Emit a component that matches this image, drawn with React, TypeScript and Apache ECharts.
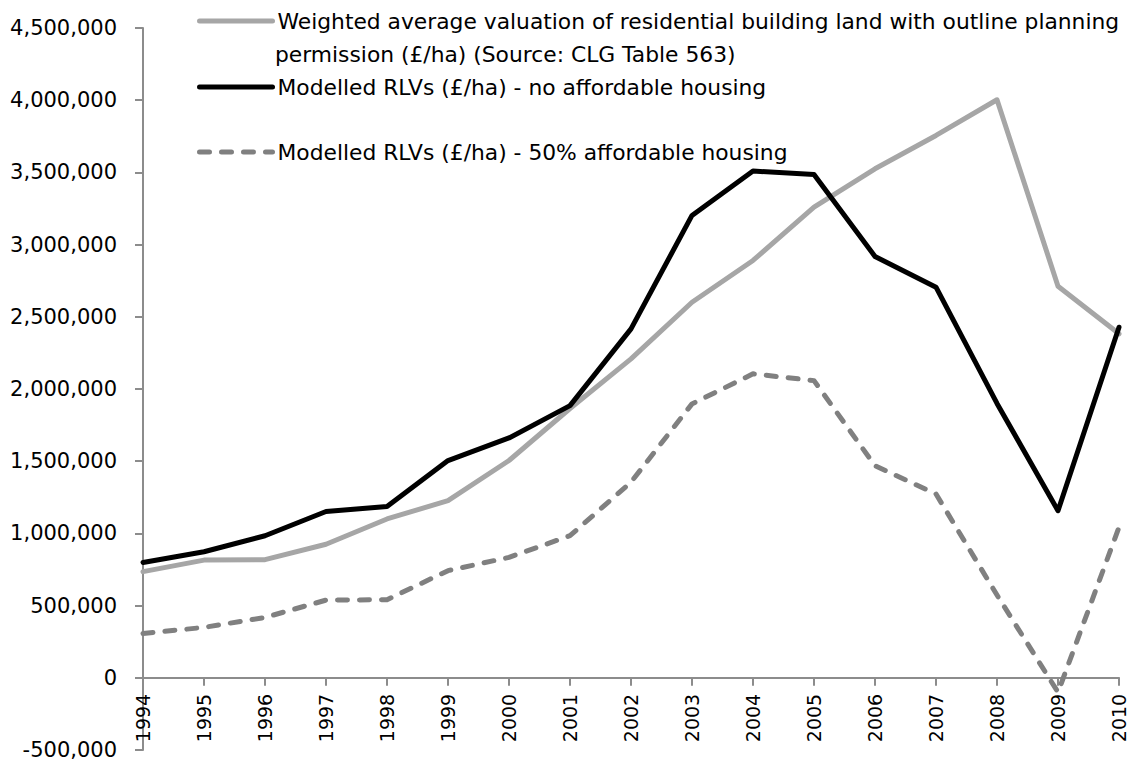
import React, { useEffect, useRef } from "react";
import * as echarts from "echarts";

const years = ["1994","1995","1996","1997","1998","1999","2000","2001","2002","2003","2004","2005","2006","2007","2008","2009","2010"];
const weightedAvg = [735000, 815000, 818000, 925000, 1100000, 1227000, 1505000, 1865000, 2209000, 2601000, 2890000, 3259000, 3525000, 3756000, 4003000, 2712000, 2382000];
const rlvNoAffordable = [799000, 873000, 984000, 1152000, 1187000, 1504000, 1661000, 1885000, 2416000, 3202000, 3509000, 3486000, 2918000, 2705000, 1900000, 1157000, 2428000];
const rlv50Affordable = [307000, 349000, 418000, 538000, 541000, 742000, 834000, 984000, 1355000, 1897000, 2105000, 2058000, 1469000, 1273000, 573000, -100000, 1042000];

const nameWeighted = "Weighted average valuation of residential building land with outline planning permission (£/ha) (Source: CLG Table 563)";
const nameWeightedLine1 = "Weighted average valuation of residential building land with outline planning";
const nameWeightedLine2 = "permission (£/ha) (Source: CLG Table 563)";
const nameNo = "Modelled RLVs (£/ha) - no affordable housing";
const name50 = "Modelled RLVs (£/ha) - 50% affordable housing";

const FONT = "DejaVu Sans";
const GREY = "#a6a6a6";
const BLACK = "#000000";
const DASH = "#808080";
const DASH_PATTERN = [10, 12];

const GRID_TOP = 28;
const GRID_BOTTOM = 10;
const CHART_H = 760;
const Y_MIN = -500000;
const Y_MAX = 4500000;

export default function App() {
  const ref = useRef<HTMLDivElement>(null);
  useEffect(() => {
    if (!ref.current) return;
    const chart = echarts.init(ref.current, undefined, { renderer: "svg" });
    const plotH = CHART_H - GRID_TOP - GRID_BOTTOM;
    // distance from the bottom of the grid to the zero line
    const zeroOffset = (plotH * (0 - Y_MIN)) / (Y_MAX - Y_MIN);
    const legendCommon = {
      orient: "vertical",
      left: 197,
      padding: 0,
      itemWidth: 73,
      itemHeight: 14,
      itemGap: 5,
      selectedMode: false,
      itemStyle: { opacity: 0 },
      textStyle: { fontFamily: FONT, fontSize: 21.8, color: "#000", lineHeight: 26 },
    };
    chart.setOption({
      animation: false,
      grid: { left: 143, right: 19, top: GRID_TOP, bottom: GRID_BOTTOM, containLabel: false, outerBoundsMode: "none" },
      legend: [
        {
          ...legendCommon,
          top: 8,
          data: [nameWeighted],
          formatter: () => nameWeightedLine1,
          lineStyle: { color: GREY, width: 5, cap: "round", type: "solid" },
        },
        {
          ...legendCommon,
          top: 74,
          data: [nameNo],
          lineStyle: { color: BLACK, width: 5, cap: "round", type: "solid" },
        },
        {
          ...legendCommon,
          top: 139,
          data: [name50],
          lineStyle: { color: DASH, width: 5, cap: "round", type: DASH_PATTERN },
        },
      ],
      graphic: [
        {
          type: "text",
          left: 275,
          top: 54 - 13,
          style: {
            text: nameWeightedLine2,
            fontFamily: FONT,
            fontSize: 21.8,
            lineHeight: 26,
            fill: "#000",
          },
        },
      ],
      xAxis: {
        type: "category",
        data: years,
        boundaryGap: false,
        position: "bottom",
        offset: -zeroOffset,
        axisLine: { onZero: false, lineStyle: { color: "#8c8c8c", width: 2 } },
        axisTick: { show: true, length: 8, inside: false, lineStyle: { color: "#8c8c8c", width: 2 } },
        axisLabel: { rotate: 90, interval: 0, margin: 16, fontFamily: FONT, fontSize: 19, color: "#000" },
        splitLine: { show: false },
      },
      yAxis: {
        type: "value",
        min: Y_MIN,
        max: Y_MAX,
        interval: 500000,
        axisLine: { show: true, lineStyle: { color: "#8c8c8c", width: 2 } },
        axisTick: { show: true, length: 8, lineStyle: { color: "#8c8c8c", width: 2 } },
        axisLabel: {
          margin: 26,
          fontFamily: FONT,
          fontSize: 21,
          lineHeight: 16,
          padding: [0, 0, 2, 0],
          color: "#000",
          formatter: (v: number) => v.toLocaleString("en-US"),
        },
        splitLine: { show: false },
      },
      series: [
        {
          name: nameWeighted,
          type: "line",
          data: weightedAvg,
          symbol: "none",
          lineStyle: { color: GREY, width: 5, cap: "round", join: "round" },
          itemStyle: { color: GREY },
        },
        {
          name: nameNo,
          type: "line",
          data: rlvNoAffordable,
          symbol: "none",
          lineStyle: { color: BLACK, width: 5, cap: "round", join: "round" },
          itemStyle: { color: BLACK },
        },
        {
          name: name50,
          type: "line",
          data: rlv50Affordable,
          symbol: "none",
          lineStyle: { color: DASH, width: 5, type: DASH_PATTERN, cap: "round", join: "round" },
          itemStyle: { color: DASH },
        },
      ],
    });
    return () => chart.dispose();
  }, []);
  return (
    <div
      ref={ref}
      style={{ position: "absolute", left: 0, top: 0, width: 1138, height: 760 }}
    />
  );
}
